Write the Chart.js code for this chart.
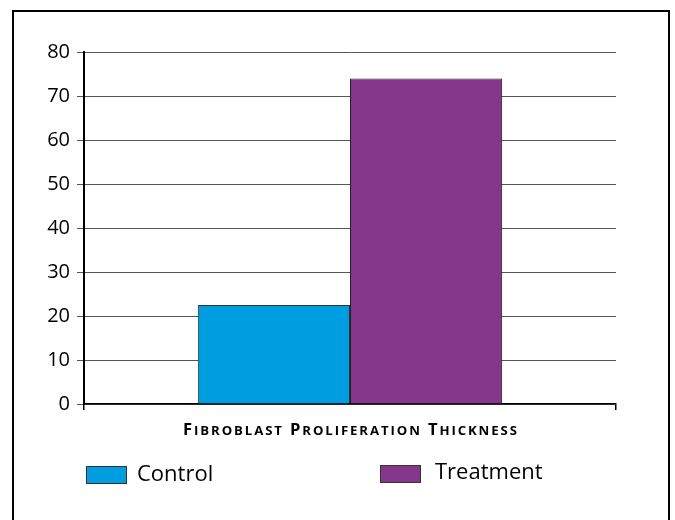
<!DOCTYPE html>
<html>
<head>
<meta charset="utf-8">
<script src="https://cdn.jsdelivr.net/npm/chart.js@4/dist/chart.umd.min.js"></script>
<style>
  html, body { margin: 0; padding: 0; background: #fff; }
  canvas { display: block; }
</style>
</head>
<body>
<canvas id="c" width="675" height="520"></canvas>
<script>
// Chart data
const categories = [''];
const seriesNames = ['Control', 'Treatment'];
const controlValues = [22.5];
const treatmentValues = [74];
const seriesColors = ['#009EE0', '#84378B'];
const axisTitle = 'Fibroblast Proliferation Thickness';
const yMin = 0;
const yMax = 80;
const yStep = 10;

// White page with a thin black frame around the figure
const framePlugin = {
  id: 'frame',
  beforeDraw(chart) {
    const ctx = chart.ctx;
    ctx.save();
    ctx.fillStyle = '#fff';
    ctx.fillRect(0, 0, chart.width, chart.height);
    ctx.strokeStyle = '#000';
    ctx.lineWidth = 2;
    ctx.strokeRect(13, 11, 656, 540);
    ctx.restore();
  }
};

// Axis title in bold small capitals, centred under the plot area
const smallCapsTitle = {
  id: 'smallCapsTitle',
  afterDraw(chart) {
    const ctx = chart.ctx;
    const area = chart.chartArea;
    const bigFont = "bold 16.5px 'Open Sans'";
    const smallFont = "bold 13.2px 'Open Sans'";
    const spacing = 1.9;
    // capitals at full size, the rest as reduced capitals
    const runs = [];
    for (const ch of axisTitle) {
      const big = ch !== ch.toLowerCase() || ch === ' ';
      runs.push({ text: ch.toUpperCase(), font: big ? bigFont : smallFont });
    }
    ctx.save();
    ctx.fillStyle = '#000';
    ctx.textBaseline = 'alphabetic';
    ctx.textAlign = 'left';
    let total = 0;
    runs.forEach(r => {
      ctx.font = r.font;
      r.w = ctx.measureText(r.text).width + spacing;
      total += r.w;
    });
    total -= spacing;
    let x = (area.left + area.right) / 2 - total / 2;
    const y = area.bottom + 31;
    runs.forEach(r => {
      ctx.font = r.font;
      ctx.fillText(r.text, x, y);
      x += r.w;
    });
    ctx.restore();
  }
};

// Legend under the axis title: swatch + label per dataset, spread apart
const bottomLegend = {
  id: 'bottomLegend',
  afterDraw(chart) {
    const ctx = chart.ctx;
    const area = chart.chartArea;
    ctx.save();
    ctx.font = "22px 'Open Sans'";
    ctx.textBaseline = 'alphabetic';
    ctx.textAlign = 'left';
    chart.data.datasets.forEach((ds, i) => {
      const x = area.left + 2 + i * 294;
      const y = 466 - i;
      ctx.fillStyle = ds.backgroundColor;
      ctx.fillRect(x, y, 41, 18);
      ctx.strokeStyle = '#333';
      ctx.lineWidth = 1;
      ctx.strokeRect(x + 0.5, y + 0.5, 40, 17);
      ctx.fillStyle = '#000';
      ctx.fillText(ds.label, x + 51 + i * 4, 481 - i * 2);
    });
    ctx.restore();
  }
};

new Chart(document.getElementById('c'), {
  type: 'bar',
  data: {
    labels: categories,
    datasets: [
      {
        label: seriesNames[0],
        data: controlValues,
        backgroundColor: seriesColors[0],
        borderColor: '#333',
        borderWidth: 1,
        barPercentage: 1,
        categoryPercentage: 0.572
      },
      {
        label: seriesNames[1],
        data: treatmentValues,
        backgroundColor: seriesColors[1],
        borderColor: '#222',
        borderWidth: 1,
        barPercentage: 1,
        categoryPercentage: 0.572
      }
    ]
  },
  options: {
    responsive: false,
    animation: false,
    layout: { padding: { left: 0, top: 52, right: 59, bottom: 70 } },
    plugins: {
      legend: { display: false },
      tooltip: { enabled: false },
      title: { display: false }
    },
    scales: {
      x: {
        type: 'category',
        offset: true,
        grid: {
          display: true,
          offset: true,
          drawOnChartArea: false,
          drawTicks: true,
          tickLength: 6,
          color: '#000',
          lineWidth: 1.5
        },
        border: { display: true, color: '#000', width: 1.5 },
        ticks: { display: false },
        title: { display: false },
        afterFit(scale) { scale.height = 46; }
      },
      y: {
        min: yMin,
        max: yMax,
        ticks: {
          stepSize: yStep,
          color: '#000',
          padding: 7,
          font: { family: "'Open Sans'", size: 20 }
        },
        grid: {
          color: '#555',
          lineWidth: 1,
          drawTicks: true,
          tickLength: 7
        },
        border: { display: true, color: '#000', width: 2 },
        afterFit(scale) { scale.width = 84; }
      }
    }
  },
  plugins: [framePlugin, smallCapsTitle, bottomLegend]
});
</script>
</body>
</html>
